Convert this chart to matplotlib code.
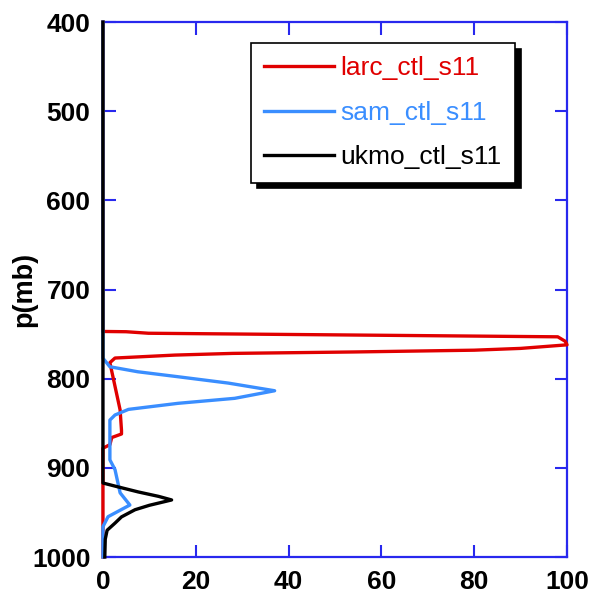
import matplotlib
matplotlib.use('Agg')
import matplotlib.pyplot as plt

# profiles: value vs pressure (mb)
p_larc = [400, 747, 747.3, 749, 751, 753, 758, 762, 766, 768, 770, 771.6, 773.5,
          776.8, 782, 835, 858, 862, 866, 874, 878, 1000]
x_larc = [0, 0, 5, 9.8, 54, 98, 99.6, 100, 90, 80, 54, 28, 15.5,
          2.6, 1.5, 3.7, 4.0, 4.0, 1.9, 1.5, 0, 0]

p_sam = [400, 777, 786.6, 792.2, 797.8, 804.9, 813.5, 822, 827.6, 834.4, 840.7,
         846.4, 891, 902, 928, 941.7, 954.8, 966, 1000]
x_sam = [0, 0, 1.5, 7.5, 16.2, 27, 37, 28.4, 16.2, 5.5, 2.6,
         1.5, 1.5, 2.6, 3.7, 5.8, 1.1, 0, 0]

p_ukmo = [400, 917, 921, 927, 932, 936, 942, 947, 955, 962, 970, 980, 1000]
x_ukmo = [0, 0, 3, 7.6, 12, 14.8, 10, 6.9, 4, 2.6, 0.9, 0.5, 0.4]

labels = ['larc_ctl_s11', 'sam_ctl_s11', 'ukmo_ctl_s11']
colors = ['#E00000', '#3A8EFF', 'black']

plt.rcParams['font.family'] = ['Liberation Sans', 'DejaVu Sans']

fig = plt.figure(figsize=(5.95, 5.93), dpi=100)
ax = fig.add_axes([0.173, 0.0607, 0.78, 0.902])

ax.plot(x_larc, p_larc, color=colors[0], lw=2.4, label=labels[0], zorder=3, clip_on=False)
ax.plot(x_sam, p_sam, color=colors[1], lw=2.4, label=labels[1], zorder=3, clip_on=False)
ax.plot(x_ukmo, p_ukmo, color=colors[2], lw=2.4, label=labels[2], zorder=3, clip_on=False)

ax.set_xlim(0, 100)
ax.set_ylim(1000, 400)
ax.set_xticks([0, 20, 40, 60, 80, 100])
ax.set_yticks([400, 500, 600, 700, 800, 900, 1000])
ax.set_ylabel('p(mb)', fontsize=19.5, fontweight='bold')
ax.yaxis.set_label_coords(-0.142, 0.5)

for s in ax.spines.values():
    s.set_color('#2828EE')
    s.set_linewidth(1.6)
ax.tick_params(direction='in', length=9, width=1.5, color='#2828EE',
               top=True, right=True, labelsize=19, pad=9)
for t in ax.get_xticklabels() + ax.get_yticklabels():
    t.set_fontweight('bold')

leg = ax.legend(loc='upper right', bbox_to_anchor=(0.888, 0.961), borderaxespad=0,
                fontsize=19, frameon=True, fancybox=False, handlelength=2.65,
                handletextpad=0.25, labelspacing=0.78, borderpad=0.5,
                shadow={'color': 'black', 'alpha': 1, 'ox': 4, 'oy': -4})
leg.get_frame().set_edgecolor('black')
leg.get_frame().set_linewidth(1.2)
for txt, c in zip(leg.get_texts(), colors):
    txt.set_color(c)

fig.savefig('out.png', dpi=100)
